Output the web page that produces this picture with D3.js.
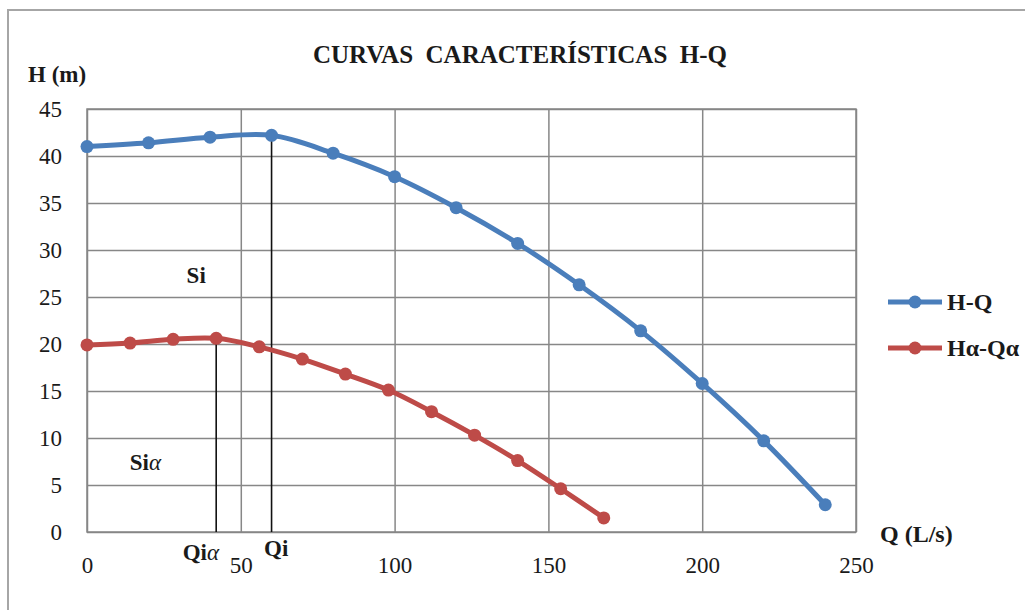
<!DOCTYPE html>
<html>
<head>
<meta charset="utf-8">
<script src="https://cdn.jsdelivr.net/npm/d3@7"></script>
<style>
  body { margin: 0; background: #fff; }
  text { font-family: "Liberation Serif", "Tinos", "Times New Roman", "DejaVu Serif", serif; fill: #1a1a1a; }
</style>
</head>
<body>
<svg id="svg" width="1025" height="610"></svg>
<script>
const serif = '"Liberation Serif", "Tinos", "Times New Roman", "DejaVu Serif", serif'

// curve H-Q
const qHQ = [0, 20, 40, 60, 80, 100, 120, 140, 160, 180, 200, 220, 240]
const hHQ = [41.0, 41.4, 42.0, 42.2, 40.3, 37.8, 34.5, 30.7, 26.3, 21.4, 15.8, 9.7, 2.9]

// curve Ha-Qa
const qA = [0, 14, 28, 42, 56, 70, 84, 98, 112, 126, 140, 154, 168]
const hA = [19.9, 20.1, 20.5, 20.6, 19.7, 18.4, 16.8, 15.1, 12.8, 10.3, 7.6, 4.6, 1.5]

const xTicks = [0, 50, 100, 150, 200, 250]
const yTicks = [0, 5, 10, 15, 20, 25, 30, 35, 40, 45]

// operating points
const qi = 60, hi = 42.2
const qia = 42, hia = 20.6

const series = [
  { name: 'H-Q', colour: '#4a7ebb', data: qHQ.map((q, i) => ({ q: q, h: hHQ[i] })) },
  { name: 'Hα-Qα', colour: '#be4b48', data: qA.map((q, i) => ({ q: q, h: hA[i] })) }
]

const svg = d3.select('#svg')

// outer chart frame
svg.append('rect')
  .attr('x', 8).attr('y', 10)
  .attr('width', 1040).attr('height', 620)
  .attr('fill', 'none')
  .attr('stroke', '#a6a6a6')
  .attr('stroke-width', 2)

const xScale = d3.scaleLinear()
  .domain([0, 250])
  .range([87, 856])

const yScale = d3.scaleLinear()
  .domain([0, 45])
  .range([532, 109])

// grid
svg.append('g')
  .attr('transform', 'translate(0,532)')
  .call(d3.axisBottom(xScale).tickValues(xTicks).tickSize(-423).tickFormat(''))
  .call(g => g.select('.domain').remove())
  .selectAll('line')
  .attr('stroke', '#878787')
  .attr('stroke-width', 1.5)

svg.append('g')
  .attr('transform', 'translate(87,0)')
  .call(d3.axisLeft(yScale).tickValues(yTicks).tickSize(-769).tickFormat(''))
  .call(g => g.select('.domain').remove())
  .selectAll('line')
  .attr('stroke', '#878787')
  .attr('stroke-width', 1.5)

svg.append('rect')
  .attr('x', 87).attr('y', 109)
  .attr('width', 769).attr('height', 423)
  .attr('fill', 'none')
  .attr('stroke', '#878787')
  .attr('stroke-width', 1.5)

// tick labels
svg.append('g')
  .attr('transform', 'translate(0,532)')
  .call(d3.axisBottom(xScale).tickValues(xTicks).tickSize(0).tickPadding(25))
  .call(g => g.select('.domain').remove())
  .call(g => g.attr('font-family', null))
  .selectAll('text')
  .style('font-family', serif)
  .style('font-size', '23px')
  .attr('fill', '#2a2a2a')

svg.append('g')
  .attr('transform', 'translate(87,0)')
  .call(d3.axisLeft(yScale).tickValues(yTicks).tickSize(0).tickPadding(25))
  .call(g => g.select('.domain').remove())
  .call(g => g.attr('font-family', null))
  .selectAll('text')
  .style('font-family', serif)
  .style('font-size', '23px')
  .attr('fill', '#2a2a2a')

// Qi and Qia lines
svg.append('line')
  .attr('x1', xScale(qi)).attr('x2', xScale(qi))
  .attr('y1', yScale(0)).attr('y2', yScale(hi))
  .attr('stroke', '#111').attr('stroke-width', 1.6)

svg.append('line')
  .attr('x1', xScale(qia)).attr('x2', xScale(qia))
  .attr('y1', yScale(0)).attr('y2', yScale(hia))
  .attr('stroke', '#111').attr('stroke-width', 1.6)

// curves
const line = d3.line()
  .x(d => xScale(d.q))
  .y(d => yScale(d.h))
  .curve(d3.curveCatmullRom.alpha(0.5))

series.forEach(s => {
  svg.append('path')
    .datum(s.data)
    .attr('d', line)
    .attr('fill', 'none')
    .attr('stroke', s.colour)
    .attr('stroke-width', 5)

  svg.selectAll(null)
    .data(s.data)
    .enter()
    .append('circle')
    .attr('cx', d => xScale(d.q))
    .attr('cy', d => yScale(d.h))
    .attr('r', 6.5)
    .attr('fill', s.colour)
})

// titles
svg.append('text')
  .attr('x', 520).attr('y', 63)
  .attr('text-anchor', 'middle')
  .style('font-size', '25px')
  .style('font-weight', 'bold')
  .attr('xml:space', 'preserve')
  .text('CURVAS  CARACTERÍSTICAS  H-Q')

svg.append('text')
  .attr('x', 28).attr('y', 82)
  .style('font-size', '23px')
  .style('font-weight', 'bold')
  .text('H (m)')

svg.append('text')
  .attr('x', 880).attr('y', 542)
  .style('font-size', '24px')
  .style('font-weight', 'bold')
  .text('Q (L/s)')

// region labels
svg.append('text')
  .attr('x', xScale(35.5)).attr('y', yScale(27.3) + 8)
  .attr('text-anchor', 'middle')
  .style('font-size', '23px')
  .style('font-weight', 'bold')
  .text('Si')

const siA = svg.append('text')
  .attr('x', xScale(19)).attr('y', yScale(7.4) + 8)
  .attr('text-anchor', 'middle')
  .style('font-size', '23px')
  .style('font-weight', 'bold')
siA.append('tspan').text('Si')
siA.append('tspan').style('font-style', 'italic').style('font-weight', 'normal').text('α')

const qiA = svg.append('text')
  .attr('x', xScale(37)).attr('y', 560)
  .attr('text-anchor', 'middle')
  .style('font-size', '23px')
  .style('font-weight', 'bold')
qiA.append('tspan').text('Qi')
qiA.append('tspan').style('font-style', 'italic').style('font-weight', 'normal').text('α')

svg.append('text')
  .attr('x', xScale(61.5)).attr('y', 556)
  .attr('text-anchor', 'middle')
  .style('font-size', '23px')
  .style('font-weight', 'bold')
  .text('Qi')

// legend
const legend = svg.append('g')
series.forEach((s, i) => {
  const y = 302 + i * 46
  legend.append('line')
    .attr('x1', 888).attr('x2', 942)
    .attr('y1', y).attr('y2', y)
    .attr('stroke', s.colour)
    .attr('stroke-width', 5)
  legend.append('circle')
    .attr('cx', 915).attr('cy', y)
    .attr('r', 6.5)
    .attr('fill', s.colour)
  legend.append('text')
    .attr('x', 947).attr('y', y + 8)
    .style('font-size', '24px')
    .style('font-weight', 'bold')
    .text(s.name)
})
</script>
</body>
</html>
